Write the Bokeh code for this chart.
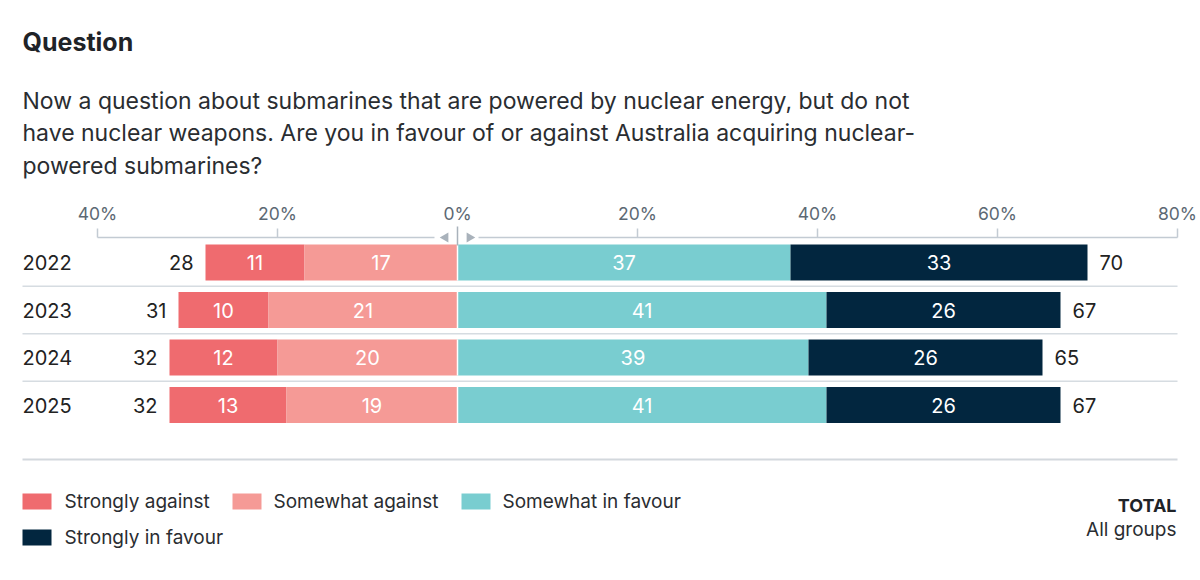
from bokeh.core.properties import value
from bokeh.embed import file_html
from bokeh.models import ColumnDataSource, Range1d
from bokeh.plotting import figure
from bokeh.resources import INLINE

# data
years = ["2022", "2023", "2024", "2025"]
strongly_against = [11, 10, 12, 13]
somewhat_against = [17, 21, 20, 19]
somewhat_favour = [37, 41, 39, 41]
strongly_favour = [33, 26, 26, 26]
total_against = [28, 31, 32, 32]
total_favour = [70, 67, 65, 67]
tick_values = [-40, -20, 0, 20, 40, 60, 80]
tick_labels = ["40%", "20%", "0%", "20%", "40%", "60%", "80%"]
series_names = ["Strongly against", "Somewhat against", "Somewhat in favour", "Strongly in favour"]
colors = ["#ef6b6f", "#f59a96", "#79cdd0", "#02263f"]

title = "Question"
subtitle = [
    "Now a question about submarines that are powered by nuclear energy, but do not",
    "have nuclear weapons. Are you in favour of or against Australia acquiring nuclear-",
    "powered submarines?",
]

FONT = "Inter"
W, H = 1200, 580
ZERO = 457      # pixel position of 0%
SCALE = 9.0     # pixels per percentage point


def fx(px):
    """pixel x -> data x"""
    return (px - ZERO) / SCALE


def fy(py):
    """pixel y -> data y (y range is flipped pixel space)"""
    return py


p = figure(width=W, height=H, output_backend="svg", toolbar_location=None,
           x_range=Range1d(-ZERO / SCALE, (W - ZERO) / SCALE),
           y_range=Range1d(H, 0), min_border=0)
p.axis.visible = False
p.grid.visible = False
p.outline_line_color = None

row_y = [fy(262 + 47.5 * i) for i in range(len(years))]

# stacked bars
sa_left = [-(a + b) for a, b in zip(strongly_against, somewhat_against)]
sa_right = [-b for b in somewhat_against]
swa_left = sa_right
swa_right = [0] * len(years)
swf_left = [0] * len(years)
swf_right = list(somewhat_favour)
sf_left = swf_right
sf_right = [a + b for a, b in zip(somewhat_favour, strongly_favour)]

segments = [
    (sa_left, sa_right, strongly_against),
    (swa_left, swa_right, somewhat_against),
    (swf_left, swf_right, somewhat_favour),
    (sf_left, sf_right, strongly_favour),
]
for (left, right, vals), color in zip(segments, colors):
    src = ColumnDataSource(data=dict(
        y=row_y, left=left, right=right,
        mid=[(l + r) / 2 for l, r in zip(left, right)],
        label=[str(v) for v in vals],
    ))
    p.hbar(y="y", left="left", right="right", height=36, source=src,
           fill_color=color, line_color=None)
    p.text(x="mid", y="y", text="label", source=src, text_color="white",
           text_font=value(FONT), text_font_size="20px",
           text_align="center", text_baseline="middle")

# zero divider between against / favour
p.segment(x0=[0] * len(years), x1=[0] * len(years),
          y0=[y - 18 for y in row_y], y1=[y + 18 for y in row_y],
          line_color="white", line_width=1.5)

# totals
p.text(x=[-t - 12 / SCALE for t in total_against], y=row_y,
       text=[str(t) for t in total_against], text_color="#222222",
       text_font=value(FONT), text_font_size="20px",
       text_align="right", text_baseline="middle")
p.text(x=[t + 12 / SCALE for t in total_favour], y=row_y,
       text=[str(t) for t in total_favour], text_color="#222222",
       text_font=value(FONT), text_font_size="20px",
       text_align="left", text_baseline="middle")

# year labels
p.text(x=[fx(22)] * len(years), y=row_y, text=years, text_color="#222222",
       text_font=value(FONT), text_font_size="20px",
       text_align="left", text_baseline="middle")

# row separators
sep_y = [(a + b) / 2 for a, b in zip(row_y[:-1], row_y[1:])]
p.segment(x0=[fx(22)] * len(sep_y), x1=[fx(1177)] * len(sep_y),
          y0=sep_y, y1=sep_y, line_color="#d6dce1", line_width=1.5)
p.segment(x0=[fx(22)], x1=[fx(1177)], y0=[fy(459)], y1=[fy(459)],
          line_color="#d3d8dd", line_width=2)

# top axis
axis_y = fy(237)
axis_color = "#c3cbd3"
p.segment(x0=[tick_values[0], 21 / SCALE], x1=[-23 / SCALE, tick_values[-1]],
          y0=[axis_y, axis_y], y1=[axis_y, axis_y],
          line_color=axis_color, line_width=1.5)
ticks = [t for t in tick_values if t != 0]
p.segment(x0=ticks, x1=ticks, y0=[axis_y - 9] * len(ticks), y1=[axis_y] * len(ticks),
          line_color=axis_color, line_width=1.5)
p.segment(x0=[0], x1=[0], y0=[axis_y - 11], y1=[axis_y + 8],
          line_color="#a9b2bb", line_width=1.5)
p.scatter(x=[-12 / SCALE, 12 / SCALE], y=[axis_y, axis_y], marker="triangle",
          angle=[1.5708, -1.5708], size=10, fill_color="#a9b2bb", line_color=None)
p.text(x=tick_values, y=[fy(213)] * len(tick_values), text=tick_labels,
       text_color="#5c6873", text_font=value(FONT), text_font_size="17.5px",
       text_align="center", text_baseline="middle")

# title / subtitle
p.text(x=[fx(22)], y=[fy(41)], text=[title], text_color="#1f2328",
       text_font=value(FONT), text_font_size="25px", text_font_style="bold",
       text_align="left", text_baseline="middle")
p.text(x=[fx(22)] * len(subtitle), y=[fy(100 + 32.5 * i) for i in range(len(subtitle))],
       text=subtitle, text_color="#2a2d31", text_font=value(FONT),
       text_font_size="23px", text_align="left", text_baseline="middle")

# legend
leg_swatch_x = [22, 232, 461, 22]
leg_text_x = [64, 273, 502, 64]
leg_y = [501, 501, 501, 537]
for sx, tx, ly, name, color in zip(leg_swatch_x, leg_text_x, leg_y, series_names, colors):
    p.rect(x=[fx(sx + 14.5)], y=[fy(ly)], width=29, height=16,
           width_units="screen", height_units="screen",
           fill_color=color, line_color=None)
    p.text(x=[fx(tx)], y=[fy(ly)], text=[name], text_color="#2a2d31",
           text_font=value(FONT), text_font_size="19px",
           text_align="left", text_baseline="middle")

p.text(x=[fx(1176)], y=[fy(505)], text=["TOTAL"], text_color="#1f2328",
       text_font=value(FONT), text_font_size="18px", text_font_style="bold",
       text_align="right", text_baseline="middle")
p.text(x=[fx(1176)], y=[fy(529)], text=["All groups"], text_color="#2a2d31",
       text_font=value(FONT), text_font_size="19px",
       text_align="right", text_baseline="middle")

open("out.html", "w").write(file_html(p, INLINE))
